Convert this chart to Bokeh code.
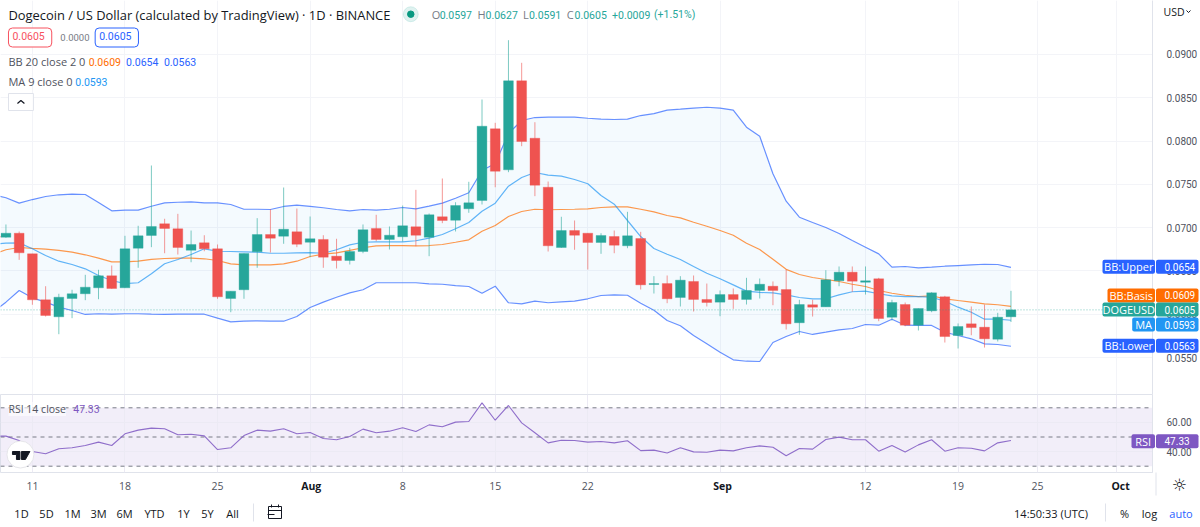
from bokeh.plotting import figure
from bokeh.layouts import column
from bokeh.models import (Range1d, LinearAxis, FixedTicker, Grid, Label, Span, BoxAnnotation,
                          ColumnDataSource, NumeralTickFormatter)
from bokeh.core.properties import value
from bokeh.embed import file_html
from bokeh.resources import INLINE

# ---------- data: day index 0 = 11 Jul, last candle = 23 Sep ----------
days = list(range(-3, 75))
opens = [.0690,.06889,.06935,.06697,.06166,.0597,.06181,.06236,.06305,.06443,.06305,.06762,.06909,.07044,.06986,.06739,.06824,.06755,.06181,.06282,.0672,
         .0692,.06901,.06951,.06831,.06863,.0667,.0662,.06724,.0699,.06863,.06894,.07009,.06889,.07125,.07085,.07217,.07313,.08141,.07667,.08695,
         .08032,.07466,.0677,.06966,.06935,.06828,.06897,.0679,.06874,.06343,.06354,.06193,.06378,.0617,.06139,.06227,.0617,.06274,.06323,.06285,
         .05901,.06109,.06085,.06386,.06485,.06369,.06409,.05965,.06112,.05873,.06039,.06201,.05754,.05889,.0585,.05711,.0597]
highs = [.0700,.07036,.06955,.06697,.06323,.06236,.06282,.06455,.06513,.06562,.06905,.07021,.07717,.07102,.07159,.06966,.06912,.06805,.06266,.06701,.07109,
         .07212,.07463,.0722,.07128,.06912,.06871,.06767,.07036,.07148,.07013,.07255,.07436,.07163,.07567,.07293,.07529,.08479,.0821,.09164,.08903,
         .08217,.07532,.07125,.07082,.06935,.06935,.06966,.07182,.06951,.06439,.06447,.06439,.06447,.06354,.06274,.06297,.0642,.06412,.06378,.06516,
         .06166,.06166,.06508,.06551,.06551,.06551,.0642,.06166,.06135,.06066,.06254,.06212,.05893,.06089,.06112,.06016,.0627]
lows = [.0685,.06882,.06628,.06109,.05973,.05769,.05954,.06162,.06173,.06293,.06305,.06536,.06774,.06704,.06689,.066,.06727,.06178,.06023,.06178,.06536,
        .06712,.06813,.06774,.06658,.06536,.06528,.06574,.06704,.06843,.06747,.06839,.06785,.0667,.07051,.06955,.07171,.07267,.07466,.0764,.0794,
        .07363,.06724,.06767,.06744,.06516,.06697,.06704,.06762,.06285,.06239,.06127,.06089,.06031,.06089,.05977,.06062,.06112,.06181,.06104,.05823,
        .05762,.05973,.06085,.06323,.06259,.06227,.05919,.05927,.05861,.05812,.06023,.05673,.05604,.05757,.05615,.05685,.0591]
closes = [.06889,.06935,.06709,.06166,.05985,.06196,.06236,.06312,.06443,.06297,.06755,.06905,.07013,.0699,.0677,.06805,.06755,.06201,.06266,.06701,.0692,
          .06878,.06981,.06808,.06871,.06658,.0662,.06724,.06975,.06863,.06912,.07021,.06912,.07148,.07082,.07255,.07286,.08171,.07651,.08695,.07994,
          .0749,.0679,.06966,.06912,.06828,.06909,.06797,.06905,.06339,.06354,.06178,.06393,.0617,.06135,.06227,.0617,.06274,.06346,.06274,.05889,
          .06112,.06081,.06397,.06485,.06381,.06386,.0595,.06135,.05873,.06066,.06247,.05742,.05858,.05846,.05716,.05965,.0605]
bb_upper = [.0738,.07345,.07282,.07324,.07359,.07379,.07386,.07382,.0729,.07194,.07201,.07201,.07247,.07286,.07293,.07298,.07286,.07286,.07267,.07212,.07212,
            .07209,.07244,.07259,.07244,.07229,.07209,.07194,.07209,.07201,.07212,.07232,.07217,.07247,.07282,.07339,.07402,.07659,.0774,.08087,.08237,
            .08271,.08275,.08275,.08275,.08263,.08252,.08248,.08252,.08294,.08317,.08356,.08367,.08379,.0839,.08379,.08356,.08159,.08055,.07621,.07305,
            .0712,.07059,.07001,.06932,.06851,.06774,.06697,.06543,.06551,.06536,.06543,.06554,.06562,.0657,.06577,.06574,.0654]
bb_lower = [.0602,.06139,.06274,.06189,.06139,.06081,.06043,.05997,.06005,.06,.06005,.06005,.06,.05997,.06,.06,.06,.05954,.05912,.05919,.05924,
            .05919,.05919,.05973,.06077,.06139,.06196,.06247,.06282,.06363,.06363,.06363,.06363,.06351,.06346,.06331,.0632,.06242,.06323,.06132,.0612,
            .0615,.06132,.06143,.0615,.06178,.06216,.06224,.06219,.06127,.06046,.05927,.05866,.05754,.05658,.05561,.05473,.05457,.05454,.05673,.05742,
            .058,.05766,.05792,.0582,.05835,.05881,.05873,.05942,.05873,.0587,.0587,.05792,.05754,.05716,.05658,.0565,.0563]
bb_basis = [.0669,.06744,.0677,.06759,.06751,.06736,.06716,.06686,.06647,.06605,.06605,.06612,.06632,.06643,.06647,.06647,.0664,.0662,.06582,.0657,.0657,
            .0657,.06582,.06612,.06666,.06693,.06709,.06736,.06767,.0679,.06793,.06793,.0679,.06793,.06805,.06831,.06859,.06958,.07024,.07128,.07186,
            .07212,.07206,.07209,.07212,.07217,.07232,.0724,.0724,.07212,.07182,.0714,.07113,.07062,.07016,.06966,.06912,.0682,.06747,.06634,.06518,
            .06458,.06424,.06401,.06378,.06346,.0632,.06274,.06242,.06219,.06204,.06212,.06178,.06158,.06139,.0612,.06109,.0609]
ma9 = [.0681,.0682,.06824,.06755,.06678,.06612,.06574,.06524,.06447,.06389,.06354,.06363,.06466,.06582,.06632,.06689,.06755,.06727,.06724,.0672,.06716,
       .06704,.06704,.06709,.06712,.06704,.06744,.06801,.06831,.06836,.06836,.06836,.06848,.06878,.0692,.06986,.07059,.07189,.07282,.07478,.07578,
       .07636,.07605,.07594,.07555,.07506,.07371,.0727,.07082,.06897,.06759,.06693,.06632,.06551,.06473,.06409,.06339,.06266,.06251,.06247,.06224,
       .06193,.06178,.06178,.06224,.06259,.06266,.06236,.06212,.06204,.06204,.06196,.0615,.06081,.06023,.05942,.05942,.0593]
rsi = [50.6,50.6,47.6,40.1,38.5,41.9,42.6,44.2,46.5,44.2,52.2,54.7,56.1,55.6,51.5,51.9,50.8,41.4,42.6,51,54.7,
       54,55.6,52.2,53.1,49,48.1,50.3,55.4,52.9,54,56.3,53.8,58.3,57,60.2,60.6,73.4,61.5,71.6,59.7,
       52.9,46,47.8,47.6,46.5,46.9,46,47.4,40.7,41,39.1,42.6,39.8,39.6,41,40.5,42.6,43.9,43,37.1,
       42.1,41.7,48.3,49.9,48.1,48.1,40.3,44.2,39.8,44.6,48.1,40.3,42.6,42.3,40.5,46,47.6]

price_ticks = [.055,.06,.065,.07,.075,.08,.085,.09]
rsi_ticks = [40, 60]
date_ticks = [0, 7, 14, 28, 35, 42, 63, 70, 76]
date_names = ["11", "18", "25", "8", "15", "22", "12", "19", "25"]
month_ticks = [21, 52, 82]
month_names = ["Aug", "Sep", "Oct"]
range_buttons = ["1D", "5D", "1M", "3M", "6M", "YTD", "1Y", "5Y", "All"]

# price tags: name, value text, tag price position, tag left edge, colour
tag_names = ["BB:Upper", "BB:Basis", "DOGEUSD", "MA", "BB:Lower"]
tag_values = ["0.0654", "0.0609", "0.0605", "0.0593", "0.0563"]
tag_prices = [.06547, .06216, .06054, .05881, .05635]
tag_lefts = [1102, 1107, 1102, 1131.7, 1102]
tag_colors = ["#2962ff", "#ff6d00", "#26a69a", "#2196f3", "#2962ff"]

FONT = "Open Sans"
NUM = "Roboto"
GREEN, RED = "#26a69a", "#ef5350"
GRID = "#f3f4f8"
BORDER = "#e0e3eb"
INK = "#131722"
PURPLE = "#7e57c2"

# page pixel -> data helpers
def dx(px): return (px - 32) / 13.27
def dy(py): return 0.055 + (357 - py) / 8660
def dr(py): return 50 - (py - 436.5) / 1.46
def price_to_page(v): return 357 - (v - 0.055) * 8660

xr = Range1d(dx(0), dx(1156))

# ---------- main pane ----------
p = figure(width=1200, height=394, x_range=xr, y_range=Range1d(dy(394), dy(0)),
           x_axis_type=None, y_axis_type=None, toolbar_location=None, output_backend="svg",
           min_border_left=0, min_border_right=44, min_border_top=0, min_border_bottom=0,
           outline_line_color=None, background_fill_color="white", border_fill_color="white")
yaxis = LinearAxis(ticker=FixedTicker(ticks=price_ticks), formatter=NumeralTickFormatter(format="0.0000"),
                   major_tick_line_color=None, minor_tick_line_color=None, axis_line_color=BORDER,
                   major_label_text_color="#50535e", major_label_text_font=NUM, major_label_text_font_size="10px",
                   major_label_standoff=8)
p.add_layout(yaxis, "right")
all_dates = sorted(date_ticks + month_ticks)
p.add_layout(Grid(dimension=0, ticker=FixedTicker(ticks=all_dates), grid_line_color=GRID))
p.add_layout(Grid(dimension=1, ticker=FixedTicker(ticks=price_ticks), grid_line_color=GRID))

cd = ColumnDataSource(dict(x=days, o=opens, h=highs, l=lows, c=closes,
                           top=[max(a, b) for a, b in zip(opens, closes)],
                           bot=[min(a, b) for a, b in zip(opens, closes)],
                           col=[GREEN if c >= o else RED for o, c in zip(opens, closes)],
                           up=bb_upper, lo=bb_lower, ba=bb_basis, ma=ma9))
p.varea("x", "lo", "up", source=cd, fill_color="#2196f3", fill_alpha=0.05)
p.line("x", "ba", source=cd, line_color="#ff6d00", line_alpha=0.7, line_width=1.2)
p.line("x", "up", source=cd, line_color="#2962ff", line_alpha=0.7, line_width=1.2)
p.line("x", "lo", source=cd, line_color="#2962ff", line_alpha=0.7, line_width=1.2)
p.line("x", "ma", source=cd, line_color="#2196f3", line_alpha=0.7, line_width=1.2)
p.segment("x", "l", "x", "h", source=cd, line_color="col", line_alpha=0.6, line_width=1)
p.vbar(x="x", top="top", bottom="bot", width=0.74, source=cd, fill_color="col", line_color="col", line_alpha=0.35)
p.add_layout(Span(location=closes[-1], dimension="width", line_color=GREEN, line_alpha=0.6,
                  line_dash="1 2", line_width=1))

def lab(fig, fy, px, py, text, color="#50535e", size=12, align="left", style="normal", font=FONT, **kw):
    fig.add_layout(Label(x=dx(px), y=fy(py), text=text, text_color=color, text_font=font,
                         text_font_size=f"{size}px", text_align=align, text_baseline="middle",
                         text_font_style=style, level="overlay", **kw))

lab(p, dy, 8, 14, "Dogecoin / US Dollar (calculated by TradingView) · 1D · BINANCE", INK, 12.9)
p.scatter([dx(411.7)], [dy(13.7)], size=15, color=GREEN, alpha=0.15)
p.scatter([dx(411.7)], [dy(13.7)], size=6.5, color="#089981")
for px, t in [(432.7, "O"), (478.7, "H"), (524.3, "L"), (568.3, "C")]:
    lab(p, dy, px, 14, t, "#787b86", 11)
for px, t in [(440.7, "0.0597"), (486.7, "0.0627"), (530.3, "0.0591"), (576, "0.0605"),
              (613.7, "+0.0009"), (655.7, "(+1.51%)")]:
    lab(p, dy, px, 14, t, GREEN, 10.5, font=NUM)
box = dict(background_fill_color="white", border_line_width=1, border_radius=4, padding=(4, 7, 4, 7))
lab(p, dy, 8, 37, "0.0605", "#f7525f", 10.5, font=NUM, border_line_color="#f7525f", **box)
lab(p, dy, 60, 37, "0.0000", "#787b86", 9.5, font=NUM)
lab(p, dy, 95, 37, "0.0605", "#2962ff", 10.5, font=NUM, border_line_color="#2962ff", **box)
lab(p, dy, 8, 61, "BB 20 close 2 0", "#50535e", 11)
lab(p, dy, 88.5, 61, "0.0609", "#ff6d00", 10.5, font=NUM)
lab(p, dy, 126, 61, "0.0654", "#2962ff", 10.5, font=NUM)
lab(p, dy, 164, 61, "0.0563", "#2962ff", 10.5, font=NUM)
lab(p, dy, 8, 81, "MA 9 close 0", "#50535e", 11)
lab(p, dy, 75, 81, "0.0593", "#2196f3", 10.5, font=NUM)
p.quad(left=[dx(8)], right=[dx(33)], top=[dy(93)], bottom=[dy(110)], fill_color="white", line_color=BORDER)
p.line([dx(17), dx(20.5), dx(24)], [dy(103), dy(100), dy(103)], line_color=INK, line_width=1.2)

# ---------- RSI pane ----------
q = figure(width=1200, height=101, x_range=xr, y_range=Range1d(dr(472), dr(394)),
           x_axis_type=None, y_axis_type=None, toolbar_location=None, output_backend="svg",
           min_border_left=0, min_border_right=44, min_border_top=0, min_border_bottom=23,
           outline_line_color=BORDER, background_fill_color="white", border_fill_color="white")
q.add_layout(LinearAxis(ticker=FixedTicker(ticks=rsi_ticks), formatter=NumeralTickFormatter(format="0.00"),
                        major_tick_line_color=None, minor_tick_line_color=None, axis_line_color=BORDER,
                        major_label_text_color="#50535e", major_label_text_font=NUM, major_label_text_font_size="10px",
                        major_label_standoff=8), "right")
xa = LinearAxis(ticker=FixedTicker(ticks=date_ticks), major_label_overrides=dict(zip(date_ticks, date_names)),
                major_tick_line_color=None, minor_tick_line_color=None, axis_line_color=None,
                major_label_text_color="#50535e", major_label_text_font=FONT, major_label_text_font_size="10.5px",
                major_label_standoff=3)
q.add_layout(xa, "below")
q.add_layout(BoxAnnotation(bottom=30, top=70, fill_color=PURPLE, fill_alpha=0.1, line_color=None, level="underlay"))
q.add_layout(Grid(dimension=0, ticker=FixedTicker(ticks=all_dates), grid_line_color="#eceaf4"))
q.add_layout(Grid(dimension=1, ticker=FixedTicker(ticks=rsi_ticks), grid_line_color="#eceaf4"))
for lv in (70, 50, 30):
    q.add_layout(Span(location=lv, dimension="width", line_color="#787b86", line_dash="4 4", line_width=1, level="underlay"))
q.line(days, rsi, line_color=PURPLE, line_alpha=0.85, line_width=1.1)
lab(q, dr, 8, 408.5, "RSI 14 close", "#50535e", 10.5, background_fill_color="white", background_fill_alpha=0.6)
lab(q, dr, 73, 408.5, "47.33", PURPLE, 10.5, font=NUM)
q.scatter([dx(20)], [dr(454)], size=27, fill_color="white", line_color="#e6e6ea")
# TradingView logo
logo_x = [[12, 19.5, 19.5, 16, 16, 12], [21, 29.5, 25, 21]]
logo_y = [[451, 451, 459, 459, 454, 454], [451, 451, 459, 459]]
q.patches([[dx(v) for v in xs] for xs in logo_x], [[dr(v) for v in ys] for ys in logo_y], color=INK)

# ---------- bottom bar ----------
b = figure(width=1200, height=32, x_range=Range1d(0, 1200), y_range=Range1d(527, 495),
           x_axis_type=None, y_axis_type=None, toolbar_location=None, output_backend="svg",
           min_border_left=0, min_border_right=0, min_border_top=0, min_border_bottom=0,
           outline_line_color=None, background_fill_color="white", border_fill_color="white",
           frame_align=False)
btn_x = [21, 46, 72, 98, 124, 154, 183, 207, 232]
b.text(btn_x, [512.5] * 9, text=range_buttons, text_font=value(FONT), text_font_size="11px",
       text_color=INK, text_align="center", text_baseline="middle")
b.segment([253, 1105], [503, 503], [253, 1105], [521, 521], line_color=BORDER)
b.quad(left=[268], right=[281], top=[506], bottom=[518], fill_color="white", line_color=INK)
b.segment([268, 271, 278, 267], [510, 504, 504, 514], [281, 271, 278, 274], [510, 507, 507, 514], line_color=INK)
b.text([1050.5], [512.5], text=["14:50:33 (UTC)"], text_font=value(FONT), text_font_size="11px", text_color=INK,
       text_align="center", text_baseline="middle")
b.text([1124, 1149, 1180.5], [512.5] * 3, text=["%", "log", "auto"], text_font=value(FONT), text_font_size="11px",
       text_color=[INK, INK, "#2962ff"], text_align="center", text_baseline="middle")

# ---------- transparent overlay for what lies over the price scale ----------
o = figure(width=1200, height=527, x_range=Range1d(0, 1200), y_range=Range1d(527, 0),
           x_axis_type=None, y_axis_type=None, toolbar_location=None, output_backend="svg",
           min_border_left=0, min_border_right=0, min_border_top=0, min_border_bottom=0,
           outline_line_color=None, background_fill_color=None, border_fill_color=None,
           frame_align=False, margin=(-527, 0, 0, 0))
tag_y = [price_to_page(v) for v in tag_prices] + [440.7]
names = tag_names + ["RSI"]
vals = tag_values + ["47.33"]
lefts = tag_lefts + [1131]
cols = tag_colors + [PURPLE]
n = len(names)
o.quad(left=lefts, right=[1154.5] * n, top=[y - 7 for y in tag_y], bottom=[y + 7 for y in tag_y],
       fill_color=cols, line_color=None, border_radius=2)
o.quad(left=[1155.5] * n, right=[1198] * n, top=[y - 7 for y in tag_y], bottom=[y + 7 for y in tag_y],
       fill_color=cols, line_color=None, border_radius=2)
o.text([(l + 1154.5) / 2 for l in lefts], tag_y, text=names, text_font=value(FONT), text_font_size="11px",
       text_color="white", text_align="center", text_baseline="middle")
o.text([1164] * n, tag_y, text=vals, text_font=value(NUM), text_font_size="10px",
       text_color="white", text_align="left", text_baseline="middle")
o.text([1163], [11], text=["USD"], text_font=value(FONT), text_font_size="10.5px", text_color=INK,
       text_align="left", text_baseline="middle")
o.line([1186, 1188, 1190], [10, 12, 10], line_color=INK, line_width=1)
o.text([32 + 13.27 * t for t in month_ticks], [485] * 3, text=month_names, text_font=value(FONT),
       text_font_size="10.5px", text_font_style="bold", text_color=INK, text_align="center", text_baseline="middle")
o.segment([1155.5], [472], [1155.5], [495], line_color=BORDER)
o.text([1179], [484.5], text=["☼"], text_font=value("DejaVu Sans"), text_font_size="17px", text_color=INK,
       text_align="center", text_baseline="middle")

page = column(p, q, b, o, spacing=0)
open("out.html", "w").write(file_html(page, INLINE))
